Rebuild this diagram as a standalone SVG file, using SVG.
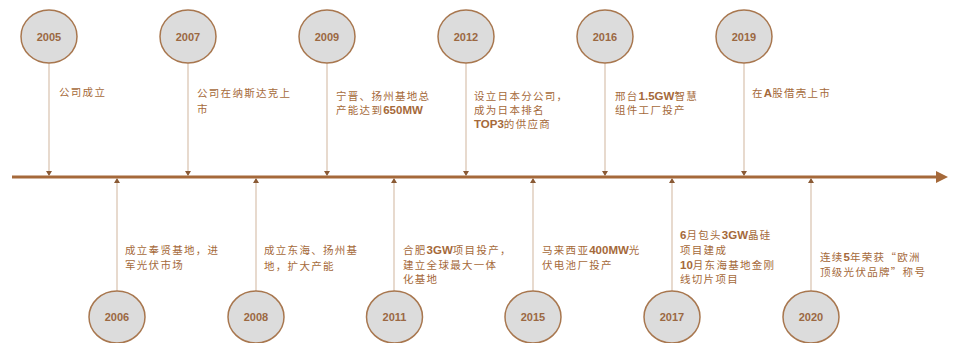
<svg xmlns="http://www.w3.org/2000/svg" width="954" height="343" viewBox="0 0 954 343">
<style>
.yr circle,.yr ellipse{fill:#dcdcdc;stroke:#a8774f;stroke-width:1.5}
.yt{font-family:"Liberation Sans",Arial,sans-serif;font-weight:bold;font-size:11px;fill:#9b6842;text-anchor:middle}
.t{font-family:"Noto Sans CJK SC","Liberation Sans",sans-serif;font-size:10.5px;fill:#a5693a;letter-spacing:1.3px}
.b{font-family:"Liberation Sans",Arial,sans-serif;font-weight:bold;font-size:11.5px;letter-spacing:0}
.c{stroke:#d8c2ae;stroke-width:1.2;fill:none;marker-end:url(#ah)}
.tl{stroke:#a5693a;stroke-width:3;marker-end:url(#big)}
</style>
<defs>
<marker id="ah" markerUnits="userSpaceOnUse" markerWidth="6" markerHeight="6" refX="5" refY="3" orient="auto">
<path d="M0,0 L5,3 L0,6 z" fill="#8a5a35"/>
</marker>
<marker id="big" markerUnits="userSpaceOnUse" markerWidth="14" markerHeight="14" refX="2" refY="6" orient="auto">
<path d="M0,0 L12,6 L0,12 z" fill="#a5693a"/>
</marker>
</defs>
<rect width="954" height="343" fill="#ffffff"/>
<g id="connectors">
<line class="tl" x1="12" y1="177" x2="938" y2="177"/>
<line class="c" x1="49" y1="63" x2="49" y2="176"/>
<line class="c" x1="188" y1="63" x2="188" y2="176"/>
<line class="c" x1="327" y1="63" x2="327" y2="176"/>
<line class="c" x1="466" y1="63" x2="466" y2="176"/>
<line class="c" x1="605" y1="63" x2="605" y2="176"/>
<line class="c" x1="744" y1="63" x2="744" y2="176"/>
<line class="c" x1="117" y1="291" x2="117" y2="178"/>
<line class="c" x1="256" y1="291" x2="256" y2="178"/>
<line class="c" x1="394" y1="291" x2="394" y2="178"/>
<line class="c" x1="533" y1="291" x2="533" y2="178"/>
<line class="c" x1="672" y1="291" x2="672" y2="178"/>
<line class="c" x1="811" y1="291" x2="811" y2="178"/>
</g>
<g id="n2005" class="yr"><ellipse cx="49" cy="36.5" rx="28" ry="26.5"/><text class="yt" x="49" y="40.5">2005</text>
<text class="t" x="59" y="96">公司成立</text></g>
<g id="n2007" class="yr"><ellipse cx="188" cy="36.5" rx="28" ry="26.5"/><text class="yt" x="188" y="40.5">2007</text>
<text class="t" x="197" y="97">公司在纳斯达克上</text><text class="t" x="197" y="113">市</text></g>
<g id="n2009" class="yr"><ellipse cx="327" cy="36.5" rx="28" ry="26.5"/><text class="yt" x="327" y="40.5">2009</text>
<text class="t" x="336" y="100">宁晋、扬州基地总</text><text class="t" x="336" y="114">产能达到<tspan class="b">650MW</tspan></text></g>
<g id="n2012" class="yr"><ellipse cx="466" cy="36.5" rx="28" ry="26.5"/><text class="yt" x="466" y="40.5">2012</text>
<text class="t" x="474" y="100">设立日本分公司，</text><text class="t" x="474" y="114">成为日本排名</text><text class="t" x="474" y="128"><tspan class="b">TOP3</tspan>的供应商</text></g>
<g id="n2016" class="yr"><ellipse cx="605" cy="36.5" rx="28" ry="26.5"/><text class="yt" x="605" y="40.5">2016</text>
<text class="t" x="615" y="100">邢台<tspan class="b">1.5GW</tspan>智慧</text><text class="t" x="615" y="114">组件工厂投产</text></g>
<g id="n2019" class="yr"><ellipse cx="744" cy="36.5" rx="28" ry="26.5"/><text class="yt" x="744" y="40.5">2019</text>
<text class="t" x="752" y="97">在<tspan class="b">A</tspan>股借壳上市</text></g>
<g id="n2006" class="yr"><ellipse cx="117" cy="317" rx="28" ry="26"/><text class="yt" x="117" y="321">2006</text>
<text class="t" x="125" y="254">成立奉贤基地，进</text><text class="t" x="125" y="269">军光伏市场</text></g>
<g id="n2008" class="yr"><ellipse cx="256" cy="317" rx="28" ry="26"/><text class="yt" x="256" y="321">2008</text>
<text class="t" x="264" y="254">成立东海、扬州基</text><text class="t" x="264" y="270">地，扩大产能</text></g>
<g id="n2011" class="yr"><ellipse cx="394.5" cy="317" rx="28" ry="26"/><text class="yt" x="394.5" y="321">2011</text>
<text class="t" x="403" y="254">合肥<tspan class="b">3GW</tspan>项目投产，</text><text class="t" x="403" y="269">建立全球最大一体</text><text class="t" x="403" y="283">化基地</text></g>
<g id="n2015" class="yr"><ellipse cx="533" cy="317" rx="28" ry="26"/><text class="yt" x="533" y="321">2015</text>
<text class="t" x="542" y="254">马来西亚<tspan class="b">400MW</tspan>光</text><text class="t" x="542" y="269">伏电池厂投产</text></g>
<g id="n2017" class="yr"><ellipse cx="672" cy="317" rx="28" ry="26"/><text class="yt" x="672" y="321">2017</text>
<text class="t" x="680" y="239"><tspan class="b">6</tspan>月包头<tspan class="b">3GW</tspan>晶硅</text><text class="t" x="680" y="254">项目建成</text><text class="t" x="680" y="269"><tspan class="b">10</tspan>月东海基地金刚</text><text class="t" x="680" y="283">线切片项目</text></g>
<g id="n2020" class="yr"><ellipse cx="811" cy="317" rx="28" ry="26"/><text class="yt" x="811" y="321">2020</text>
<text class="t" x="820" y="261">连续<tspan class="b">5</tspan>年荣获“欧洲</text><text class="t" x="820" y="275.5">顶级光伏品牌”称号</text></g>
</svg>
